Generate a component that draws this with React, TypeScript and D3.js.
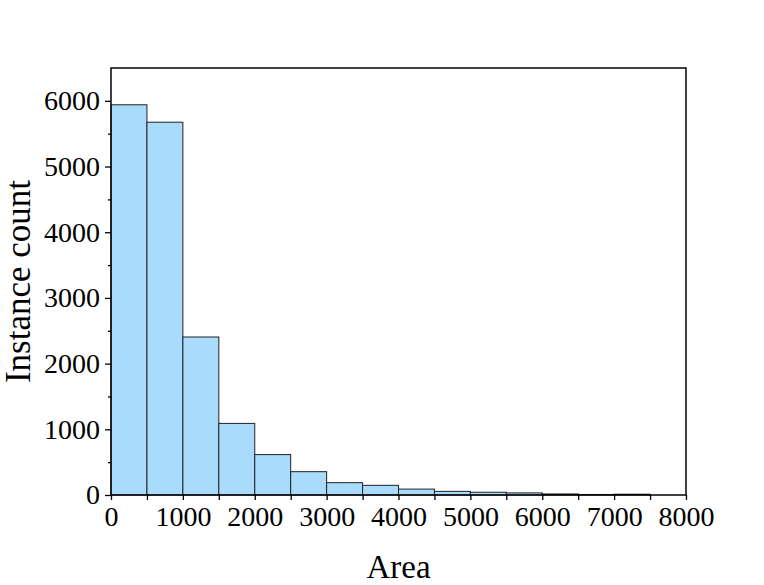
import React, { useEffect, useRef } from 'react'
import * as d3 from 'd3'

// histogram bins (lower edges) and counts
const binStarts = [0, 500, 1000, 1500, 2000, 2500, 3000, 3500, 4000, 4500, 5000, 5500, 6000, 6500, 7000]
const counts = [5940, 5675, 2405, 1090, 615, 355, 188, 147, 90, 55, 42, 32, 16, 8, 12]
const binWidth = 500
const xTicks = [0, 1000, 2000, 3000, 4000, 5000, 6000, 7000, 8000]
const yTicks = [0, 1000, 2000, 3000, 4000, 5000, 6000]

const width = 764
const height = 585
const margin = { top: 68, right: 78, bottom: 90, left: 111 }
const font = '"Liberation Serif", "DejaVu Serif", serif'

export default function App() {
  const xAxisRef = useRef<SVGGElement>(null)
  const xMinorRef = useRef<SVGGElement>(null)
  const yAxisRef = useRef<SVGGElement>(null)
  const yMinorRef = useRef<SVGGElement>(null)

  /* scales */
  const x = d3.scaleLinear().domain([0, 8000]).range([margin.left, width - margin.right])
  const y = d3.scaleLinear().domain([0, 6500]).range([height - margin.bottom, margin.top])

  useEffect(() => {
    const xAxis = d3.axisBottom(x).tickValues(xTicks).tickSize(5).tickPadding(6).tickFormat((d) => `${d}`)
    const xMinor = d3.axisBottom(x).tickValues(d3.range(500, 8000, 1000)).tickSize(5).tickFormat(() => '')
    const yAxis = d3.axisLeft(y).tickValues(yTicks).tickSize(6).tickPadding(5).tickFormat((d) => `${d}`)
    const yMinor = d3.axisLeft(y).tickValues(d3.range(500, 6500, 1000)).tickSize(3).tickFormat(() => '')

    const style = (g: d3.Selection<SVGGElement, unknown, null, undefined>) => {
      g.select('.domain').remove()
      g.selectAll('line').attr('stroke', '#000').attr('stroke-width', 1.3)
      g.selectAll('text').attr('fill', '#000').style('font-family', font).style('font-size', '28px')
    }
    if (xAxisRef.current) d3.select(xAxisRef.current).call(xAxis).call(style)
    if (xMinorRef.current) d3.select(xMinorRef.current).call(xMinor).call(style)
    if (yAxisRef.current) d3.select(yAxisRef.current).call(yAxis).call(style)
    if (yMinorRef.current) d3.select(yMinorRef.current).call(yMinor).call(style)
  }, [])

  const plotH = height - margin.bottom
  return (
    <svg width={width} height={height} style={{ position: 'absolute', left: 0, top: 0, background: '#fff' }}>
      {/* bars */}
      {binStarts.map((b, i) => (
        <rect
          key={i}
          x={x(b)}
          y={y(counts[i])}
          width={x(b + binWidth) - x(b)}
          height={plotH - y(counts[i])}
          fill="#a9dbfc"
          stroke="#222"
          strokeWidth={1}
        />
      ))}
      {/* frame */}
      <rect
        x={margin.left}
        y={margin.top}
        width={width - margin.left - margin.right}
        height={plotH - margin.top}
        fill="none"
        stroke="#000"
        strokeWidth={1.5}
      />
      <g ref={xAxisRef} transform={`translate(0, ${plotH})`} />
      <g ref={xMinorRef} transform={`translate(0, ${plotH})`} />
      <g ref={yAxisRef} transform={`translate(${margin.left}, 0)`} />
      <g ref={yMinorRef} transform={`translate(${margin.left}, 0)`} />
      {/* axis titles */}
      <text
        x={(margin.left + width - margin.right) / 2}
        y={578}
        textAnchor="middle"
        fontFamily={font}
        fontSize="33px"
      >
        Area
      </text>
      <text
        transform={`translate(30, ${(margin.top + plotH) / 2}) rotate(-90)`}
        textAnchor="middle"
        fontFamily={font}
        fontSize="35px"
      >
        Instance count
      </text>
    </svg>
  )
}
